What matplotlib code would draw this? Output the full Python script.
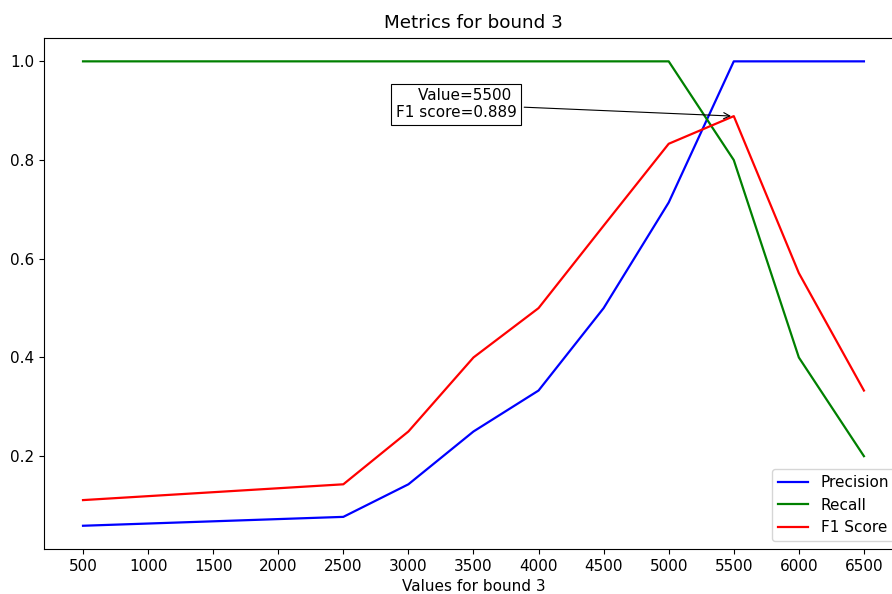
import matplotlib
matplotlib.use("Agg")
import matplotlib.pyplot as plt

values = [500, 2500, 3000, 3500, 4000, 4500, 5000, 5500, 6000, 6500]
precision = [0.059, 0.077, 0.143, 0.25, 0.333, 0.5, 0.714, 1.0, 1.0, 1.0]
recall = [1.0, 1.0, 1.0, 1.0, 1.0, 1.0, 1.0, 0.8, 0.4, 0.2]
f1 = [0.111, 0.143, 0.25, 0.4, 0.5, 0.667, 0.833, 0.889, 0.571, 0.333]
xticks = list(range(500, 7000, 500))
best_x, best_f1 = 5500, 0.889

plt.rcParams["font.size"] = 11
fig = plt.figure(figsize=(8.92, 5.94), dpi=100)
ax = fig.add_axes([0.0493, 0.0758, 0.963, 0.860])
ax.plot(values, precision, color="blue", label="Precision", lw=1.6)
ax.plot(values, recall, color="green", label="Recall", lw=1.6)
ax.plot(values, f1, color="red", label="F1 Score", lw=1.6)
ax.set_xticks(xticks)
ax.set_xlabel("Values for bound 3")
ax.set_title("Metrics for bound 3", pad=7.5)
ax.annotate(f"Value={best_x} \nF1 score={best_f1:.3f}", xy=(best_x, best_f1),
            xytext=(3830, 0.913), ha="right", va="center",
            bbox=dict(boxstyle="square", fc="white", ec="black", lw=0.8),
            arrowprops=dict(arrowstyle="->", color="black", lw=0.8))
ax.legend(loc="lower right")
fig.savefig("out.png", dpi=100)
